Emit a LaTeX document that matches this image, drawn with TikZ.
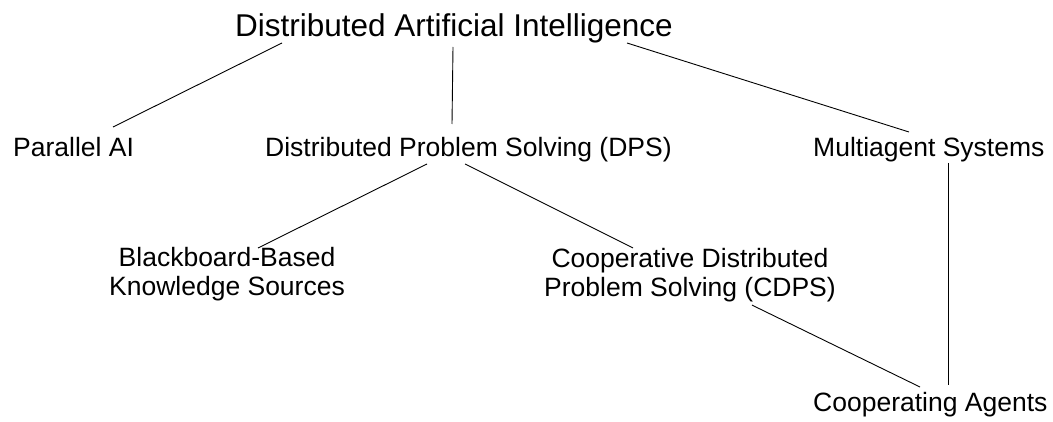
\documentclass[tikz,border=0pt]{standalone}
\usepackage{fontspec}
\newfontfamily\arialf{Liberation Sans}
\begin{document}
\begin{tikzpicture}[x=1pt,y=1pt,
  lbl/.style={font=\arialf\fontsize{26.5}{29}\selectfont, inner sep=0pt, align=center},
  ttl/.style={font=\arialf\fontsize{31.5}{35}\selectfont, inner sep=0pt},
  conn/.style={draw=black, line width=0.9pt}]
\useasboundingbox (0,0) rectangle (1053,421);
\fill[white] (0,0) rectangle (1053,421);
\node[ttl, anchor=base] (dai) at (454,384) {Distributed Artificial Intelligence};
\node[lbl, anchor=base west] (par) at (13,264) {Parallel AI};
\node[lbl, anchor=base west] (dps) at (265,264) {Distributed Problem Solving (DPS)};
\node[lbl, anchor=base west] (mas) at (813,264) {Multiagent Systems};
\node[lbl, anchor=north] (bb) at (227,174) {Blackboard-Based\\Knowledge Sources};
\node[lbl, anchor=north] (cdps) at (690,173) {Cooperative Distributed\\Problem Solving (CDPS)};
\node[lbl, anchor=base west] (coop) at (813,10) {Cooperating Agents};
\draw[conn] ([xshift=-172pt,yshift=-6pt]dai.base) -- ([xshift=100pt,yshift=30pt]par.base west);
\draw[conn] ([xshift=-1pt,yshift=-10pt]dai.base) -- ([xshift=187pt,yshift=33pt]dps.base west);
\draw[conn] ([xshift=173pt,yshift=-6pt]dai.base) -- ([xshift=96pt,yshift=25pt]mas.base west);
\draw[conn] ([xshift=162pt,yshift=-7pt]dps.base west) -- ([xshift=31pt,yshift=-1pt]bb.north);
\draw[conn] ([xshift=200pt,yshift=-7pt]dps.base west) -- ([xshift=-57pt,yshift=0pt]cdps.north);
\draw[conn] ([xshift=135pt,yshift=-6pt]mas.base west) -- ([xshift=135pt,yshift=26pt]coop.base west);
\draw[conn] ([xshift=62pt,yshift=-3pt]cdps.south) -- ([xshift=107pt,yshift=24pt]coop.base west);
\end{tikzpicture}
\end{document}
